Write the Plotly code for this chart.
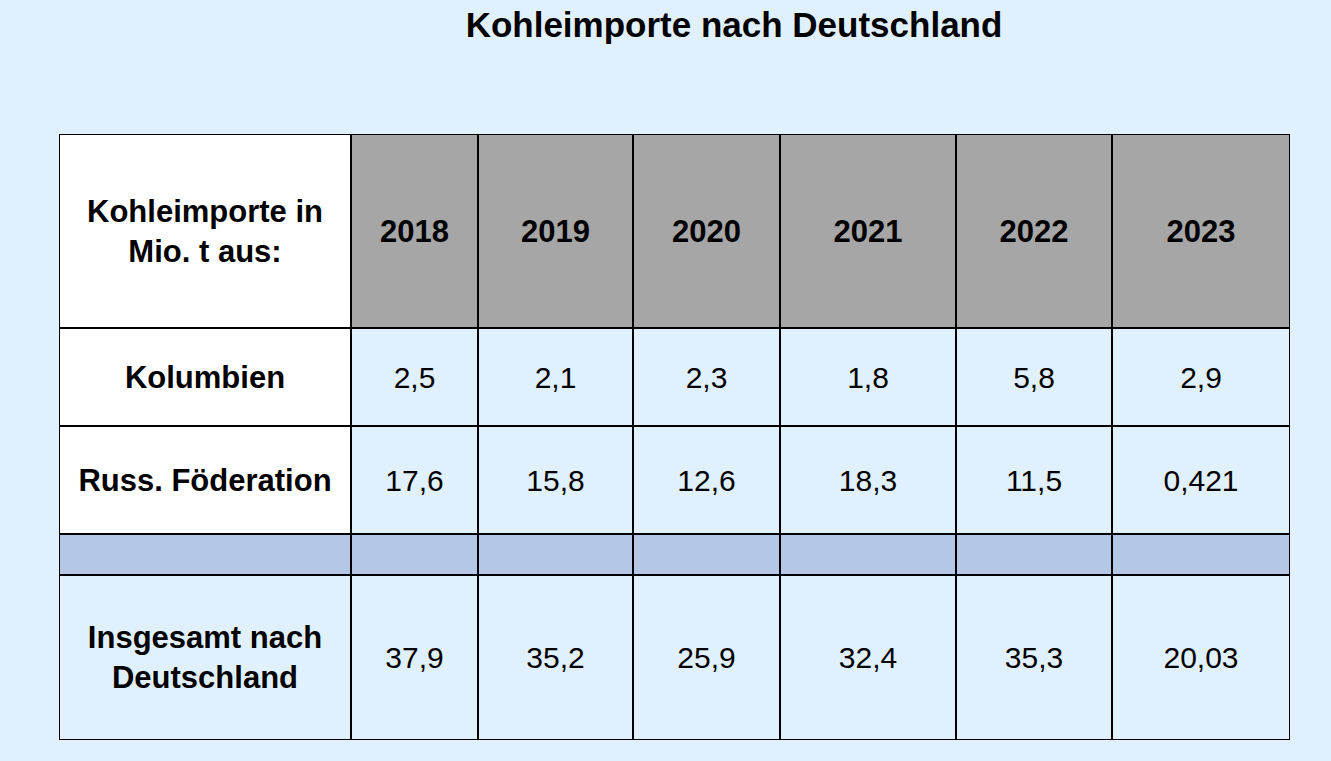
import plotly.graph_objects as go

# ---- data ----
title_text = "Kohleimporte nach Deutschland"
corner_label = "Kohleimporte in<br>Mio. t aus:"
years = ["2018", "2019", "2020", "2021", "2022", "2023"]
row_labels = ["Kolumbien", "Russ. Föderation", "", "Insgesamt nach<br>Deutschland"]
kolumbien = [2.5, 2.1, 2.3, 1.8, 5.8, 2.9]
russland = [17.6, 15.8, 12.6, 18.3, 11.5, 0.421]
separator = [None] * 6
insgesamt = [37.9, 35.2, 25.9, 32.4, 35.3, 20.03]
rows = [kolumbien, russland, separator, insgesamt]

# ---- layout geometry (pixels) ----
col_widths = [292, 127, 155, 147, 176, 156, 178]
row_heights = [194, 98, 108, 41, 165]
TEXT_DY = 3  # small downward nudge of cell text
BG = "#E0F0FC"
HEADER = "#A6A6A6"
SEP = "#B4C7E7"
WHITE = "#FFFFFF"
FONT = "Liberation Sans, Arial, sans-serif"

col_edges = [0]
for w in col_widths:
    col_edges.append(col_edges[-1] + w)
row_edges = [0]
for h in row_heights:
    row_edges.append(row_edges[-1] + h)
W, H = col_edges[-1], row_edges[-1]
col_centers = [(col_edges[i] + col_edges[i + 1]) / 2 for i in range(len(col_widths))]
row_centers = [(row_edges[i] + row_edges[i + 1]) / 2 + TEXT_DY for i in range(len(row_heights))]

def fmt(v):
    if v is None:
        return ""
    return str(v).replace(".", ",")

# fill colours per row: (first column, data columns)
row_fills = [(WHITE, HEADER), (WHITE, BG), (WHITE, BG), (SEP, SEP), (BG, BG)]

shapes = []
for r in range(len(row_heights)):
    for c in range(len(col_widths)):
        fill = row_fills[r][0] if c == 0 else row_fills[r][1]
        shapes.append(dict(
            type="rect", xref="x", yref="y",
            x0=col_edges[c], x1=col_edges[c + 1],
            y0=row_edges[r], y1=row_edges[r + 1],
            fillcolor=fill, line=dict(color="black", width=2), layer="below",
        ))

fig = go.Figure()

# header row
fig.add_trace(go.Scatter(
    x=col_centers, y=[row_centers[0]] * len(col_centers),
    mode="text",
    text=["<b>" + corner_label + "</b>"] + ["<b>" + y + "</b>" for y in years],
    textfont=dict(family=FONT, size=31, color="black"),
    textposition="middle center", hoverinfo="skip",
))

# row labels
fig.add_trace(go.Scatter(
    x=[col_centers[0]] * len(row_labels), y=row_centers[1:],
    mode="text",
    text=["<b>" + t + "</b>" if t else "" for t in row_labels],
    textfont=dict(family=FONT, size=31, color="black"),
    textposition="middle center", hoverinfo="skip",
))

# values
for r, vals in enumerate(rows):
    fig.add_trace(go.Scatter(
        x=col_centers[1:], y=[row_centers[r + 1]] * len(vals),
        mode="text",
        text=[fmt(v) for v in vals],
        textfont=dict(family=FONT, size=30, color="black"),
        textposition="middle center", hoverinfo="skip",
    ))

fig.update_layout(
    width=1331, height=761,
    margin=dict(l=59, r=41, t=134, b=21),
    paper_bgcolor=BG, plot_bgcolor=BG,
    showlegend=False,
    shapes=shapes,
    title=dict(
        text="<b>" + title_text + "</b>",
        font=dict(family=FONT, size=35, color="black"),
        xref="paper", x=(734 - 59) / W, xanchor="center",
        yref="container", y=1 - 25 / 761, yanchor="middle",
    ),
    xaxis=dict(range=[0, W], visible=False, fixedrange=True),
    yaxis=dict(range=[H, 0], visible=False, fixedrange=True),
)

fig.write_html(
    "out.html",
    config={"displayModeBar": False},
    post_script="document.body.style.margin='0';document.body.style.overflow='hidden';document.body.style.background='" + BG + "';",
)
